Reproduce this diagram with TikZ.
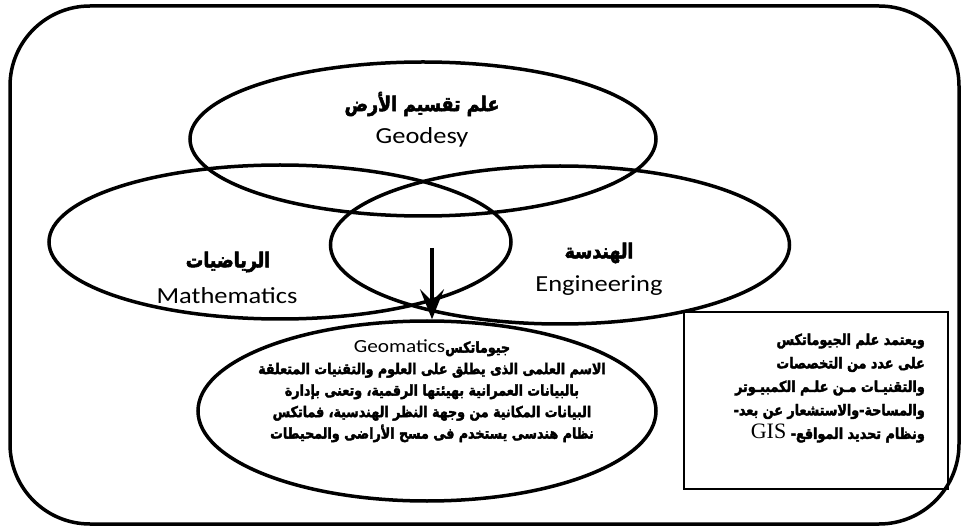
\documentclass[tikz,border=0pt]{standalone}
\usepackage{fontspec}
\setmainfont[FakeStretch=1.15]{Carlito}
\newfontfamily\arabicfont[Script=Arabic,FakeStretch=0.85,BoldFeatures={FakeBold=2.5}]{DejaVu Sans}
\newfontfamily\gisfont{Liberation Serif}
\TeXXeTstate=1
\usetikzlibrary{shapes.geometric,arrows.meta}
\newcommand{\RL}[1]{\beginR #1\endR}
\tikzset{
  venn/.style={ellipse, draw, line width=3.5pt, inner sep=0pt},
  artitle/.style={font=\arabicfont\bfseries\fontsize{20.5}{24}\selectfont, inner sep=0pt},
  latitle/.style={font=\fontsize{23}{26}\selectfont, inner sep=0pt},
  frame/.style={draw, line width=3.5pt, rounded corners=80pt},
  infobox/.style={draw, line width=1.5pt, inner sep=0pt},
  flow/.style={line width=3.5pt, -{Stealth[length=30pt,width=24pt,inset=12pt]}}
}
\begin{document}
\begin{tikzpicture}[x=1pt,y=-1pt]
\useasboundingbox (0,0) rectangle (964,529);
\draw[frame] (10,6) rectangle (959,524);
% ellipses
\node[venn, minimum width=466pt, minimum height=154pt] (geo) at (423,139) {};
\node[venn, minimum width=462pt, minimum height=154pt] (math) at (280,242) {};
\node[venn, minimum width=459pt, minimum height=158pt] (eng) at (560,245) {};
\node[venn, minimum width=458pt, minimum height=180pt] (geom) at (427,411) {};
% titles
\node[artitle] (geoar) at (422,104) {\RL{علم تقسيم الأرض}};
\node[latitle] (geoen) at (422,137) {Geodesy};
\node[artitle] (mathar) at (228,262) {\RL{الرياضيات}};
\node[latitle] (mathen) at (227,296) {Mathematics};
\node[artitle] (engar) at (599,253) {\RL{الهندسة}};
\node[latitle] (engen) at (599,286) {Engineering};
% arrow
\coordinate (astart) at (432,248);
\draw[flow] (astart) -- (astart |- geom.north);
% geomatics text
\node[font=\arabicfont\bfseries\fontsize{14.9}{21.5}\selectfont, align=center, inner sep=0pt] (geomtxt) at (432,391)
{\RL{جيوماتكس\beginL{\normalfont\fontsize{18.5}{18}\selectfont Geomatics}\endL}\\
 \RL{الاسم العلمى الذى يطلق على العلوم والتقنيات المتعلقة}\\
 \RL{بالبيانات العمرانية بهيئتها الرقمية، وتعنى بإدارة}\\
 \RL{البيانات المكانية من وجهة النظر الهندسية، فماتكس}\\
 \RL{نظام هندسى يستخدم فى مسح الأراضى والمحيطات}};
% info box
\node[infobox, minimum width=264pt, minimum height=177pt] (box) at (816,400.5) {};
\node[font=\arabicfont\bfseries\fontsize{15}{23.5}\selectfont, align=right, inner sep=0pt, anchor=east] (boxtxt) at (925,388)
{\RL{ويعتمد علم الجيوماتكس}\\
 \RL{على عدد من التخصصات}\\
 \RL{والتقنيـات مـن علـم الكمبيـوتر}\\
 \RL{والمساحة-والاستشعار عن بعد-}\\
 \RL{ونظام تحديد المواقع- \beginL{\gisfont\mdseries\fontsize{22}{24}\selectfont GIS}\endL}};
\end{tikzpicture}
\end{document}
